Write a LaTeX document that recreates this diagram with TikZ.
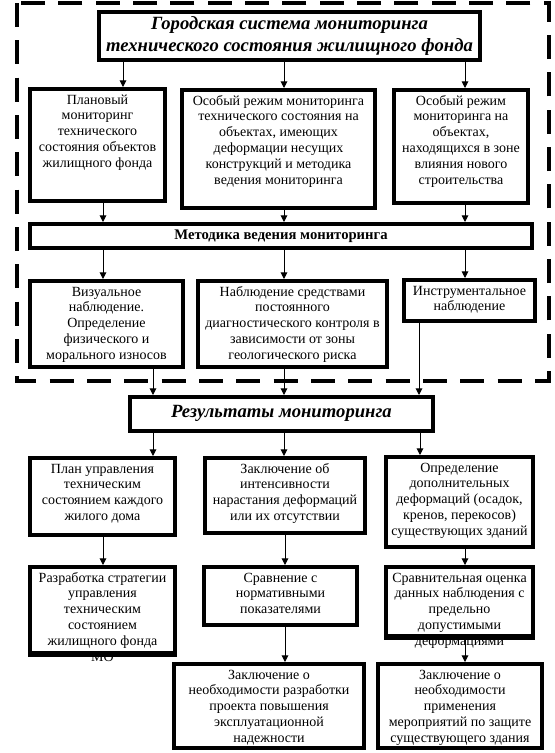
\documentclass[tikz,border=0pt]{standalone}
\usepackage{fontspec}
\setmainfont{Liberation Serif}
\usetikzlibrary{arrows.meta}
\newcommand\bx[7]{%
  \pgfmathsetlengthmacro\bw{(#4-#2-4)*0.75pt}%
  \pgfmathsetlengthmacro\bh{(#5-#3-4)*0.75pt}%
  \pgfmathsetlengthmacro\pw{(#4-#2-10)*0.75pt}%
  \pgfmathsetlengthmacro\ph{(#5-#3-12)*0.75pt}%
  \node[box, minimum width=\bw, minimum height=\bh] (#1) at ({(#2+#4)/2},{(#3+#5)/2})
    {\parbox[c][\ph][#7]{\pw}{\centering\strut #6}};}
\begin{document}
\begin{tikzpicture}[x=0.75pt,y=-0.75pt,
  box/.style={draw, line width=3pt, inner sep=0pt, fill=white,
    font=\fontsize{10.5pt}{11.85pt}\selectfont},
  arr/.style={line width=0.75pt, -{Triangle[width=5pt,length=5pt]}},
  frame/.style={line width=3pt, dash pattern=on 18pt off 10pt}]
\useasboundingbox (0,0) rectangle (554,753);
\draw[frame] (17,3) rectangle (549,381);
% x positions of connectors
\coordinate (xa) at (123,0);
\coordinate (xb) at (284,0);
\coordinate (xc) at (465,0);
\coordinate (xd) at (103,0);
\coordinate (xe) at (153,0);
\coordinate (xf) at (419,0);
\coordinate (xg) at (420,0);
\coordinate (xh) at (285,0);
% boxes
\bx{T}{97}{10}{482}{62}{\fontsize{14pt}{17pt}\selectfont\bfseries\itshape Городская система мониторинга\\технического состояния жилищного фонда}{c}
\bx{A}{28}{87}{167}{203}{Плановый\\мониторинг\\технического\\состояния объектов\\жилищного фонда}{t}
\bx{B}{180}{88}{377}{210}{Особый режим мониторинга\\технического состояния на\\объектах, имеющих\\деформации несущих\\конструкций и методика\\ведения мониторинга}{t}
\bx{C}{392}{88}{530}{205}{Особый режим\\мониторинга на\\объектах,\\находящихся в зоне\\влияния нового\\строительства}{t}
\bx{Met}{28}{222}{534}{250}{\fontsize{11pt}{13pt}\selectfont\bfseries Методика ведения мониторинга}{c}
\bx{D}{28}{279}{185}{369}{Визуальное\\наблюдение.\\Определение\\физического и\\морального износов}{t}
\bx{E}{196}{279}{389}{369}{Наблюдение средствами\\постоянного\\диагностического контроля в\\зависимости от зоны\\геологического риска}{t}
\bx{F}{402}{278}{537}{323}{Инструментальное\\наблюдение}{t}
\bx{R}{128}{395}{435}{433}{\fontsize{14pt}{17pt}\selectfont\bfseries\itshape Результаты мониторинга}{c}
\bx{G}{28}{456}{177}{537}{План управления\\техническим\\состоянием каждого\\жилого дома}{t}
\bx{H}{203}{456}{367}{535}{Заключение об\\интенсивности\\нарастания деформаций\\или их отсутствии}{t}
\bx{I}{384}{455}{535}{549}{Определение\\дополнительных\\деформаций (осадок,\\кренов, перекосов)\\существующих зданий}{t}
\bx{J}{28}{565}{177}{655}{Разработка стратегии\\управления\\техническим\\состоянием\\жилищного фонда\\МО}{t}
\bx{K}{202}{565}{359}{627}{Сравнение с\\нормативными\\показателями}{t}
\bx{L}{384}{565}{535}{638}{Сравнительная оценка\\данных наблюдения с\\предельно\\допустимыми\\деформациями}{t}
\bx{M}{172}{662}{366}{750}{Заключение о\\необходимости разработки\\проекта повышения\\эксплуатационной\\надежности}{t}
\bx{N}{376}{662}{544}{750}{Заключение о\\необходимости\\применения\\мероприятий по защите\\существующего здания}{t}
% borders drawn over overflowing text
\draw[line width=3pt] (J.south west) -- (J.south east);
\draw[line width=3pt] (L.south west) -- (L.south east);
% connectors
\draw[arr] (T.south -| xa) -- (A.north -| xa);
\draw[arr] (T.south -| xb) -- (B.north -| xb);
\draw[arr] (T.south -| xc) -- (C.north -| xc);
\draw[arr] (A.south -| xd) -- (Met.north -| xd);
\draw[arr] (B.south -| xb) -- (Met.north -| xb);
\draw[arr] (C.south -| xc) -- (Met.north -| xc);
\draw[arr] (Met.south -| xd) -- (D.north -| xd);
\draw[arr] (Met.south -| xb) -- (E.north -| xb);
\draw[arr] (Met.south -| xc) -- (F.north -| xc);
\draw[arr] (D.south -| xe) -- (R.north -| xe);
\draw[arr] (E.south -| xb) -- (R.north -| xb);
\draw[arr] (F.south -| xf) -- (R.north -| xf);
\draw[arr] (R.south -| xe) -- (G.north -| xe);
\draw[arr] (R.south -| xb) -- (H.north -| xb);
\draw[arr] (R.south -| xg) -- (I.north -| xg);
\draw[arr] (G.south -| xd) -- (J.north -| xd);
\draw[arr] (H.south -| xh) -- (K.north -| xh);
\draw[arr] (I.south -| xc) -- (L.north -| xc);
\draw[arr] (K.south -| xh) -- (M.north -| xh);
\draw[arr] (L.south -| xc) -- (N.north -| xc);
\end{tikzpicture}
\end{document}
